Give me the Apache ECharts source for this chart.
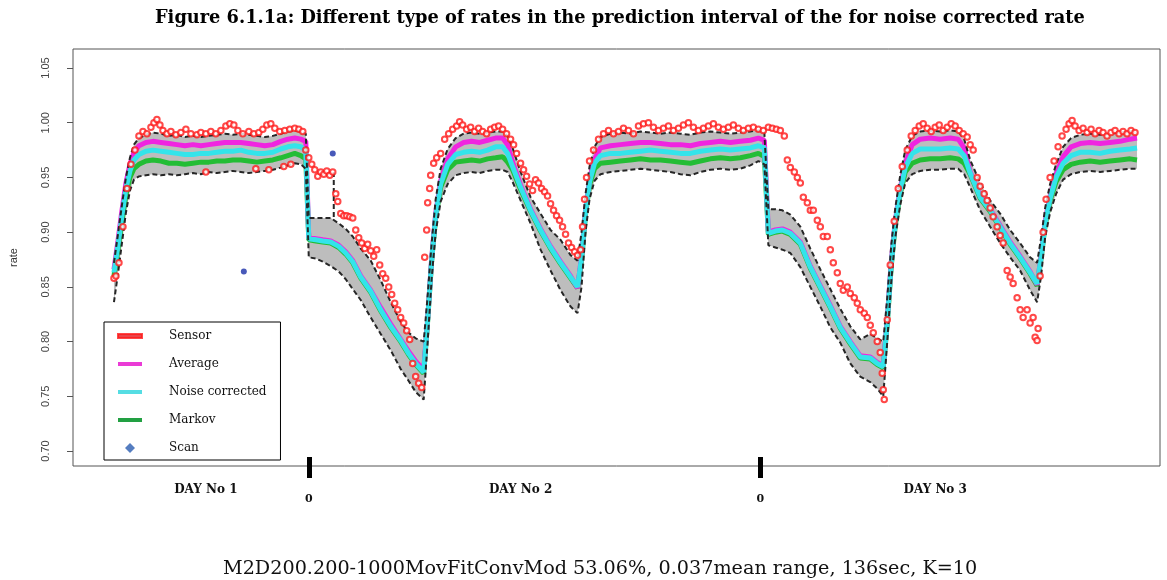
<!DOCTYPE html>
<html>
<head>
<meta charset="utf-8">
<script src="https://cdn.jsdelivr.net/npm/echarts@6/dist/echarts.min.js"></script>
<style>
html,body{margin:0;padding:0;background:#fff;}
#c{width:1167px;height:580px;}
</style>
</head>
<body>
<div id="c"></div>
<script>
// ---------- DATA ----------
const titleText = 'Figure 6.1.1a: Different type of rates in the prediction interval of the for noise corrected rate';
const captionText = 'M2D200.200-1000MovFitConvMod 53.06%, 0.037mean range, 136sec, K=10';
const yTicks = [0.70, 0.75, 0.80, 0.85, 0.90, 0.95, 1.00, 1.05];
const dayLabelT = [133, 448, 863];
const dayLabels = ['DAY No 1', 'DAY No 2', 'DAY No 3'];
const dayBoundT = [236, 688];

const sampleT = [41,45,49,53,57,61,66,73,80,88,96,104,112,120,128,136,144,152,160,168,176,184,192,200,208,215,222,228,233,
  236,243,250,258,266,273,280,288,298,308,318,328,336,343,351,355,359,363,368,375,383,391,399,407,415,423,430,435,440,448,458,468,478,488,498,505,
  509,513,517,522,528,538,548,558,568,578,588,598,608,618,628,638,648,658,668,678,686,692,
  696,703,710,718,728,738,748,758,768,778,788,798,805,811,815,819,823,828,833,840,848,858,868,878,886,892,
  898,908,918,928,938,948,958,965,969,973,978,984,991,999,1008,1018,1028,1038,1048,1058,1065];
const upperBound = [0.872,0.898,0.925,0.950,0.968,0.980,0.986,0.989,0.991,0.990,0.988,0.989,0.987,0.988,0.987,0.988,0.989,0.990,0.989,0.990,0.989,0.988,0.987,0.988,0.990,0.992,0.993,0.992,0.990,
  0.913,0.913,0.913,0.913,0.908,0.903,0.896,0.885,0.874,0.856,0.836,0.818,0.808,0.803,0.800,0.842,0.890,0.930,0.958,0.976,0.986,0.990,0.991,0.990,0.991,0.992,0.992,0.988,0.977,0.955,0.932,0.917,0.902,0.893,0.879,0.874,
  0.900,0.935,0.960,0.978,0.987,0.990,0.991,0.990,0.992,0.991,0.990,0.991,0.990,0.989,0.991,0.992,0.991,0.990,0.991,0.992,0.993,0.991,
  0.921,0.921,0.920,0.916,0.905,0.885,0.866,0.848,0.830,0.814,0.802,0.807,0.803,0.800,0.840,0.888,0.922,0.952,0.975,0.988,0.992,0.993,0.992,0.993,0.992,0.985,
  0.966,0.945,0.929,0.917,0.902,0.890,0.877,0.872,0.895,0.922,0.944,0.962,0.978,0.986,0.989,0.990,0.989,0.990,0.991,0.992,0.992];
const lowerBound = [0.836,0.862,0.890,0.918,0.938,0.948,0.951,0.952,0.953,0.952,0.953,0.952,0.953,0.954,0.953,0.955,0.954,0.955,0.956,0.955,0.954,0.955,0.956,0.957,0.959,0.961,0.963,0.962,0.958,
  0.877,0.876,0.873,0.869,0.864,0.857,0.848,0.838,0.822,0.807,0.792,0.775,0.764,0.754,0.747,0.800,0.858,0.900,0.928,0.944,0.952,0.954,0.955,0.954,0.956,0.957,0.957,0.955,0.946,0.929,0.908,0.884,0.865,0.847,0.832,0.826,
  0.850,0.900,0.930,0.947,0.953,0.955,0.956,0.957,0.958,0.957,0.956,0.955,0.953,0.952,0.955,0.957,0.958,0.957,0.958,0.961,0.965,0.962,
  0.888,0.886,0.884,0.881,0.868,0.850,0.832,0.813,0.799,0.780,0.768,0.763,0.757,0.750,0.800,0.855,0.895,0.925,0.945,0.953,0.956,0.957,0.957,0.958,0.958,0.953,
  0.941,0.920,0.905,0.890,0.877,0.865,0.847,0.836,0.860,0.895,0.918,0.935,0.948,0.953,0.955,0.956,0.955,0.956,0.957,0.958,0.958];
const averageRate = [0.866,0.892,0.920,0.945,0.962,0.973,0.979,0.982,0.983,0.982,0.981,0.980,0.979,0.980,0.979,0.980,0.981,0.982,0.982,0.982,0.981,0.980,0.979,0.980,0.983,0.985,0.986,0.985,0.983,
  0.895,0.894,0.893,0.892,0.888,0.882,0.874,0.860,0.847,0.831,0.816,0.802,0.791,0.782,0.774,0.821,0.876,0.917,0.947,0.967,0.978,0.982,0.983,0.982,0.984,0.986,0.986,0.980,0.964,0.943,0.921,0.903,0.887,0.873,0.860,0.849,
  0.878,0.920,0.948,0.967,0.977,0.979,0.980,0.981,0.982,0.982,0.981,0.980,0.980,0.979,0.981,0.982,0.983,0.982,0.983,0.984,0.986,0.984,
  0.900,0.902,0.903,0.900,0.891,0.869,0.851,0.833,0.814,0.800,0.787,0.786,0.781,0.778,0.820,0.873,0.910,0.940,0.963,0.980,0.985,0.986,0.985,0.986,0.985,0.977,
  0.955,0.933,0.921,0.906,0.891,0.878,0.864,0.852,0.878,0.910,0.933,0.953,0.969,0.978,0.981,0.982,0.981,0.982,0.983,0.985,0.986];
const noiseCorrected = [0.863,0.888,0.915,0.940,0.956,0.966,0.971,0.974,0.975,0.974,0.973,0.972,0.971,0.971,0.972,0.972,0.973,0.974,0.974,0.975,0.973,0.972,0.972,0.973,0.976,0.978,0.979,0.978,0.975,
  0.894,0.893,0.892,0.891,0.887,0.881,0.873,0.859,0.846,0.829,0.814,0.801,0.789,0.780,0.772,0.820,0.875,0.915,0.944,0.962,0.971,0.973,0.974,0.973,0.975,0.978,0.978,0.972,0.960,0.941,0.920,0.902,0.886,0.872,0.859,0.850,
  0.876,0.918,0.946,0.963,0.970,0.972,0.972,0.973,0.974,0.975,0.974,0.973,0.972,0.972,0.974,0.975,0.976,0.975,0.976,0.977,0.979,0.977,
  0.899,0.901,0.902,0.899,0.890,0.868,0.850,0.832,0.813,0.799,0.786,0.785,0.780,0.777,0.818,0.871,0.908,0.938,0.959,0.972,0.976,0.976,0.976,0.977,0.976,0.970,
  0.954,0.932,0.920,0.905,0.890,0.877,0.863,0.853,0.877,0.908,0.931,0.950,0.963,0.970,0.973,0.973,0.972,0.974,0.975,0.976,0.977];
const markovRate = [0.860,0.884,0.910,0.934,0.950,0.958,0.962,0.965,0.966,0.965,0.963,0.963,0.962,0.963,0.964,0.964,0.965,0.965,0.966,0.966,0.965,0.964,0.965,0.966,0.968,0.970,0.972,0.970,0.967,
  0.893,0.892,0.891,0.890,0.886,0.880,0.872,0.858,0.845,0.828,0.813,0.800,0.788,0.779,0.771,0.819,0.874,0.913,0.941,0.957,0.964,0.965,0.966,0.965,0.967,0.968,0.969,0.964,0.957,0.939,0.919,0.901,0.885,0.871,0.858,0.849,
  0.874,0.916,0.943,0.958,0.963,0.964,0.965,0.966,0.967,0.966,0.966,0.965,0.964,0.963,0.965,0.967,0.968,0.967,0.968,0.970,0.972,0.969,
  0.898,0.900,0.901,0.898,0.889,0.867,0.849,0.831,0.812,0.798,0.785,0.784,0.779,0.776,0.816,0.869,0.906,0.935,0.955,0.963,0.966,0.967,0.967,0.968,0.967,0.963,
  0.953,0.931,0.919,0.904,0.889,0.876,0.862,0.851,0.876,0.906,0.929,0.946,0.957,0.962,0.964,0.965,0.964,0.965,0.966,0.967,0.966];

const sensorT = [41,43,46,50,54,58,62,
  66,70,74,78,81,84,87,90,94,98,103,108,113,118,124,128,133,138,143,148,153,157,161,165,170,176,181,186,190,194,198,202,207,212,217,222,226,230,
  133,183,196,211,218,
  233,236,239,242,245,248,251,254,257,260,263,265,268,271,274,277,280,283,286,289,292,295,298,301,304,307,310,313,316,319,322,325,328,331,334,337,340,343,346,349,
  352,354,355,357,358,361,364,368,
  372,376,380,384,387,390,394,398,402,406,410,414,418,422,426,430,434,
  438,441,444,448,451,454,457,460,463,466,469,472,475,478,481,484,487,490,493,496,499,502,505,508,
  510,512,514,517,521,
  526,531,536,541,546,551,556,561,566,571,576,581,586,591,596,601,606,611,616,621,626,631,636,641,646,651,656,661,666,671,676,681,686,691,
  696,700,704,708,712,715,718,722,725,728,731,735,738,741,745,748,751,755,758,761,765,768,771,775,778,782,785,788,792,795,798,801,805,808,810,811,812,
  815,818,822,826,830,835,
  839,843,847,851,855,859,863,867,871,875,879,883,887,891,
  895,898,901,905,908,912,915,918,921,925,928,931,935,938,941,945,948,951,955,958,961,963,965,966,
  968,971,974,978,982,986,
  990,994,997,1000,1003,1007,1011,1015,1019,1023,1027,1031,1035,1039,1043,1047,1051,1055,1059,1063];
const sensorRate = [0.858,0.860,0.872,0.905,0.940,0.962,0.975,
  0.988,0.992,0.990,0.996,1.000,1.003,0.998,0.993,0.990,0.992,0.989,0.991,0.994,0.990,0.989,0.991,0.990,0.992,0.990,0.993,0.997,0.999,0.998,0.993,0.990,0.992,0.990,0.991,0.994,0.998,0.999,0.995,0.992,0.993,0.994,0.995,0.994,0.992,
  0.955,0.958,0.957,0.960,0.962,
  0.975,0.968,0.962,0.957,0.951,0.955,0.953,0.956,0.952,0.955,0.935,0.928,0.917,0.915,0.915,0.914,0.913,0.902,0.895,0.890,0.885,0.889,0.883,0.878,0.884,0.870,0.862,0.858,0.850,0.843,0.835,0.829,0.822,0.817,0.810,0.802,0.780,0.768,0.762,0.758,
  0.877,0.902,0.927,0.940,0.952,0.963,0.968,0.972,
  0.985,0.990,0.994,0.997,1.001,0.998,0.994,0.996,0.992,0.995,0.992,0.990,0.994,0.996,0.997,0.994,0.990,
  0.985,0.980,0.972,0.963,0.957,0.951,0.944,0.938,0.948,0.945,0.940,0.937,0.933,0.926,0.920,0.915,0.911,0.905,0.898,0.890,0.886,0.882,0.879,0.884,
  0.905,0.930,0.950,0.965,0.975,
  0.985,0.990,0.993,0.990,0.992,0.995,0.993,0.990,0.997,0.999,1.000,0.996,0.993,0.995,0.997,0.993,0.995,0.998,1.000,0.996,0.993,0.995,0.997,0.999,0.996,0.994,0.996,0.998,0.995,0.993,0.995,0.996,0.994,0.993,
  0.996,0.995,0.994,0.993,0.988,0.966,0.959,0.955,0.950,0.945,0.932,0.927,0.920,0.920,0.911,0.905,0.896,0.896,0.884,0.872,0.863,0.853,0.847,0.850,0.844,0.840,0.835,0.829,0.826,0.822,0.815,0.808,0.800,0.790,0.771,0.756,0.747,
  0.820,0.870,0.910,0.940,0.960,0.975,
  0.988,0.993,0.997,0.999,0.995,0.992,0.996,0.998,0.993,0.996,0.999,0.997,0.993,0.990,
  0.987,0.980,0.975,0.950,0.942,0.935,0.929,0.922,0.914,0.905,0.897,0.890,0.865,0.859,0.853,0.840,0.829,0.822,0.829,0.817,0.822,0.804,0.801,0.812,
  0.860,0.900,0.930,0.950,0.965,0.978,
  0.988,0.994,0.999,1.002,0.997,0.993,0.995,0.991,0.994,0.990,0.993,0.991,0.988,0.991,0.993,0.990,0.992,0.990,0.993,0.991];

const scanT = [171, 260];
const scanRate = [0.864, 0.972];

// secondary dashed step of the upper limit (day 1 drop)
const stepT = [261, 261];
const stepRate = [0.955, 0.913];

// ---------- CHART ----------
const zip = (a, b) => a.map((v, i) => [v, b[i]]);
const serif = 'DejaVu Serif';
const sans = 'Liberation Sans';
const dash = { color: '#262626', width: 2, type: [5, 3] };
const bar = 'path://M0,0 L24,0 L24,4 L0,4 Z';

const chart = echarts.init(document.getElementById('c'), null, { renderer: 'canvas' });
const option = {
  animation: false,
  backgroundColor: '#fff',
  title: [
    { text: titleText, left: 150, top: 4,
      textStyle: { fontFamily: serif, fontWeight: 'bold', fontSize: 17.8, color: '#000' } },
    { text: captionText, left: 218, top: 555,
      textStyle: { fontFamily: serif, fontWeight: 'normal', fontSize: 19.2, color: '#111' } }
  ],
  grid: { left: 73, right: 7, top: 49, bottom: 114, show: true, borderColor: '#555', borderWidth: 1 },
  xAxis: [
    { type: 'value', min: 0, max: 1088, position: 'bottom',
      axisLine: { show: false }, splitLine: { show: false },
      axisTick: { show: true, customValues: dayBoundT, length: 12, lineStyle: { width: 5, color: '#000' } },
      axisLabel: { customValues: dayLabelT, margin: 18,
        formatter: v => dayLabels[dayLabelT.indexOf(v)] || '',
        fontFamily: serif, fontWeight: 'bold', fontSize: 12, color: '#111' } },
    { type: 'value', min: 0, max: 1088, position: 'bottom',
      axisLine: { show: false }, splitLine: { show: false },
      axisTick: { show: true, inside: true, customValues: dayBoundT, length: 9, lineStyle: { width: 5, color: '#000' } },
      axisLabel: { customValues: dayBoundT, margin: 28, formatter: () => '0',
        fontFamily: serif, fontWeight: 'bold', fontSize: 11, color: '#111' } }
  ],
  yAxis: {
    type: 'value', min: 0.6863, max: 1.0674,
    name: 'rate', nameLocation: 'middle', nameRotate: 90, nameGap: 54,
    nameTextStyle: { fontFamily: sans, fontSize: 11, color: '#333' },
    axisLine: { show: false }, splitLine: { show: false },
    axisTick: { show: true, customValues: yTicks, length: 6, lineStyle: { color: '#555' } },
    axisLabel: { customValues: yTicks, rotate: 90, margin: 22, formatter: v => v.toFixed(2),
      fontFamily: sans, fontSize: 11, color: '#444' }
  },
  legend: {
    orient: 'vertical', left: 104, top: 322,
    padding: [8, 14, 6, 13], itemGap: 16, itemWidth: 24, itemHeight: 10,
    borderColor: '#000', borderWidth: 1, backgroundColor: '#fff',
    formatter: n => '{t|' + n + '}',
    textStyle: { fontFamily: serif, fontSize: 12, color: '#111',
      rich: { t: { fontFamily: serif, fontSize: 12, color: '#111', padding: [0, 0, 0, 22] } } },
    data: [
      { name: 'Sensor', icon: bar, itemStyle: { color: '#e3161b' } },
      { name: 'Average', icon: bar, itemStyle: { color: '#ea3bd6' } },
      { name: 'Noise corrected', icon: bar, itemStyle: { color: '#55dde3' } },
      { name: 'Markov', icon: bar, itemStyle: { color: '#22a043' } },
      { name: 'Scan', icon: 'path://M5,0 L10,5 L5,10 L0,5 Z', itemStyle: { color: '#2a5db0' } }
    ]
  },
  series: [
    { type: 'custom', name: 'band', silent: true, z: 1, clip: true, data: [[0, 0.9]],
      renderItem: (params, api) => {
        const pts = [];
        for (let i = 0; i < sampleT.length; i++) pts.push(api.coord([sampleT[i], upperBound[i]]));
        for (let i = sampleT.length - 1; i >= 0; i--) pts.push(api.coord([sampleT[i], lowerBound[i]]));
        return { type: 'polygon', shape: { points: pts }, style: { fill: '#bdbdbd' } };
      } },
    { type: 'line', name: 'Markov', z: 3, symbol: 'none', data: zip(sampleT, markovRate),
      lineStyle: { color: '#23bd35', width: 5 }, itemStyle: { color: '#22a043' } },
    { type: 'line', name: 'Average', z: 3, symbol: 'none', data: zip(sampleT, averageRate),
      lineStyle: { color: '#f024e0', width: 5 }, itemStyle: { color: '#ea3bd6' } },
    { type: 'line', name: 'Noise corrected', z: 4, symbol: 'none', data: zip(sampleT, noiseCorrected),
      lineStyle: { color: '#33e4ea', width: 5 }, itemStyle: { color: '#55dde3' } },
    { type: 'line', name: 'upper', z: 5, symbol: 'none', data: zip(sampleT, upperBound), lineStyle: dash },
    { type: 'line', name: 'lower', z: 5, symbol: 'none', data: zip(sampleT, lowerBound), lineStyle: dash },
    { type: 'line', name: 'upperStep', z: 5, symbol: 'none', data: zip(stepT, stepRate), lineStyle: dash },
    { type: 'scatter', name: 'Sensor', z: 6, symbol: 'emptyCircle', symbolSize: 5.5,
      data: zip(sensorT, sensorRate), itemStyle: { color: '#ff1a1a', borderColor: '#ff1a1a', borderWidth: 1.3 } },
    { type: 'scatter', name: 'Scan', z: 7, symbol: 'circle', symbolSize: 6,
      data: zip(scanT, scanRate), itemStyle: { color: '#1a2fa8' } }
  ]
};
chart.setOption(option);
</script>
</body>
</html>
